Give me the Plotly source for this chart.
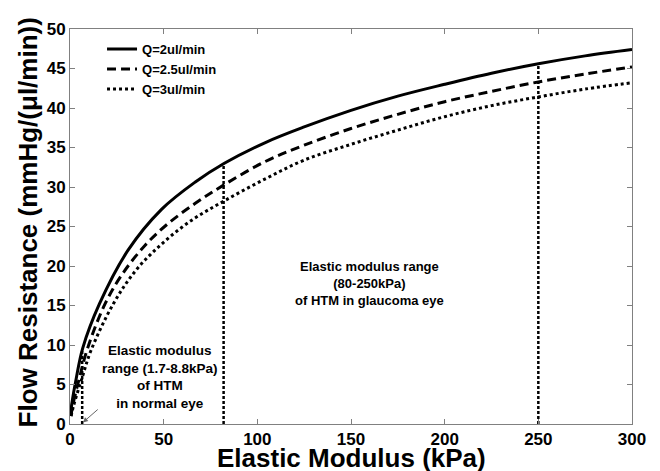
import plotly.graph_objects as go

# Data
q2_x = [0.3, 1.0, 3.2, 6.8, 15.7, 31, 49, 66.7, 82.4, 104, 125, 150, 175, 200, 225, 250, 275, 300]
q2_y = [1.2, 2.6, 5.6, 9.6, 15.2, 22.0, 27.2, 30.6, 33.0, 35.6, 37.6, 39.7, 41.5, 43.0, 44.4, 45.6, 46.6, 47.4]

q25_x = [0.5, 1.5, 5, 9.4, 18.7, 28, 40, 52, 66.7, 82.4, 104, 125, 150, 175, 200, 225, 250, 275, 300]
q25_y = [1.0, 2.4, 5.8, 9.6, 15.2, 19.0, 22.6, 25.3, 27.9, 30.3, 33.2, 35.3, 37.4, 39.2, 40.8, 42.1, 43.3, 44.3, 45.2]

q3_x = [0.6, 2, 6.4, 11.2, 23.1, 35, 49, 65, 82.8, 104, 125, 150, 175, 200, 225, 250, 275, 300]
q3_y = [1.0, 2.4, 5.8, 9.3, 15.2, 19.4, 22.8, 25.8, 28.3, 31.0, 33.4, 35.4, 37.2, 38.9, 40.3, 41.4, 42.4, 43.2]

vline_x = [6.5, 82, 250]
vline_top = [9.5, 33.0, 45.6]

x_ticks = [0, 50, 100, 150, 200, 250, 300]
y_ticks = [0, 5, 10, 15, 20, 25, 30, 35, 40, 45, 50]

FONT = "Liberation Sans, Arial, sans-serif"

fig = go.Figure()
fig.add_trace(go.Scatter(x=q2_x, y=q2_y, mode="lines", name="Q=2ul/min",
                         line=dict(color="black", width=3, shape="spline", smoothing=1.0)))
fig.add_trace(go.Scatter(x=q25_x, y=q25_y, mode="lines", name="Q=2.5ul/min",
                         line=dict(color="black", width=3, dash="9px,5px", shape="spline", smoothing=1.0)))
fig.add_trace(go.Scatter(x=q3_x, y=q3_y, mode="lines", name="Q=3ul/min",
                         line=dict(color="black", width=3, dash="3px,3px", shape="spline", smoothing=1.0)))

for vx, vt in zip(vline_x, vline_top):
    fig.add_trace(go.Scatter(x=[vx, vx], y=[0, vt], mode="lines", showlegend=False,
                             line=dict(color="black", width=2.5, dash="3px,2px")))

fig.add_annotation(x=6.9, y=0.2, ax=15.6, ay=2.0, xref="x", yref="y", axref="x", ayref="y",
                   text="", showarrow=True, arrowhead=2, arrowsize=1, arrowwidth=1, arrowcolor="#666666")

fig.add_annotation(x=48, y=6.0, xref="x", yref="y", showarrow=False,
                   text="Elastic modulus<br>range (1.7-8.8kPa)<br>of HTM<br>in normal eye",
                   font=dict(family=FONT, size=13.5, color="black", weight="bold"), align="center")
fig.add_annotation(x=160, y=17.8, xref="x", yref="y", showarrow=False,
                   text="Elastic modulus range<br>(80-250kPa)<br>of HTM in glaucoma eye",
                   font=dict(family=FONT, size=13, color="black", weight="bold"), align="center")

fig.add_annotation(x=0.5, y=-0.086, xref="paper", yref="paper", xanchor="center", yanchor="middle",
                   showarrow=False, text="Elastic Modulus (kPa)",
                   font=dict(family=FONT, size=26, color="black", weight="bold"))
fig.add_annotation(x=-0.075, y=0.51, xref="paper", yref="paper", xanchor="center", yanchor="middle",
                   showarrow=False, textangle=-90, text="Flow Resistance (mmHg/(μl/min))",
                   font=dict(family=FONT, size=26, color="black", weight="bold"))

axis_common = dict(showline=True, linecolor="#808080", linewidth=1, mirror="ticks",
                   ticks="inside", ticklen=5, tickcolor="#808080", showgrid=False, zeroline=False,
                   tickfont=dict(family=FONT, size=17, color="black", weight="bold"))

fig.update_xaxes(range=[0, 300], tickvals=x_ticks, **axis_common)
fig.update_yaxes(range=[0, 50], tickvals=y_ticks, **axis_common)

fig.update_layout(
    width=652, height=463,
    margin=dict(l=62, r=28, t=13, b=47),
    paper_bgcolor="white", plot_bgcolor="white",
    showlegend=True,
    legend=dict(x=0.057, y=0.987, xanchor="left", yanchor="top", bgcolor="rgba(0,0,0,0)",
                font=dict(family=FONT, size=13, color="black", weight="bold"),
                itemwidth=30, tracegroupgap=0),
)

fig.write_html("out.html")
